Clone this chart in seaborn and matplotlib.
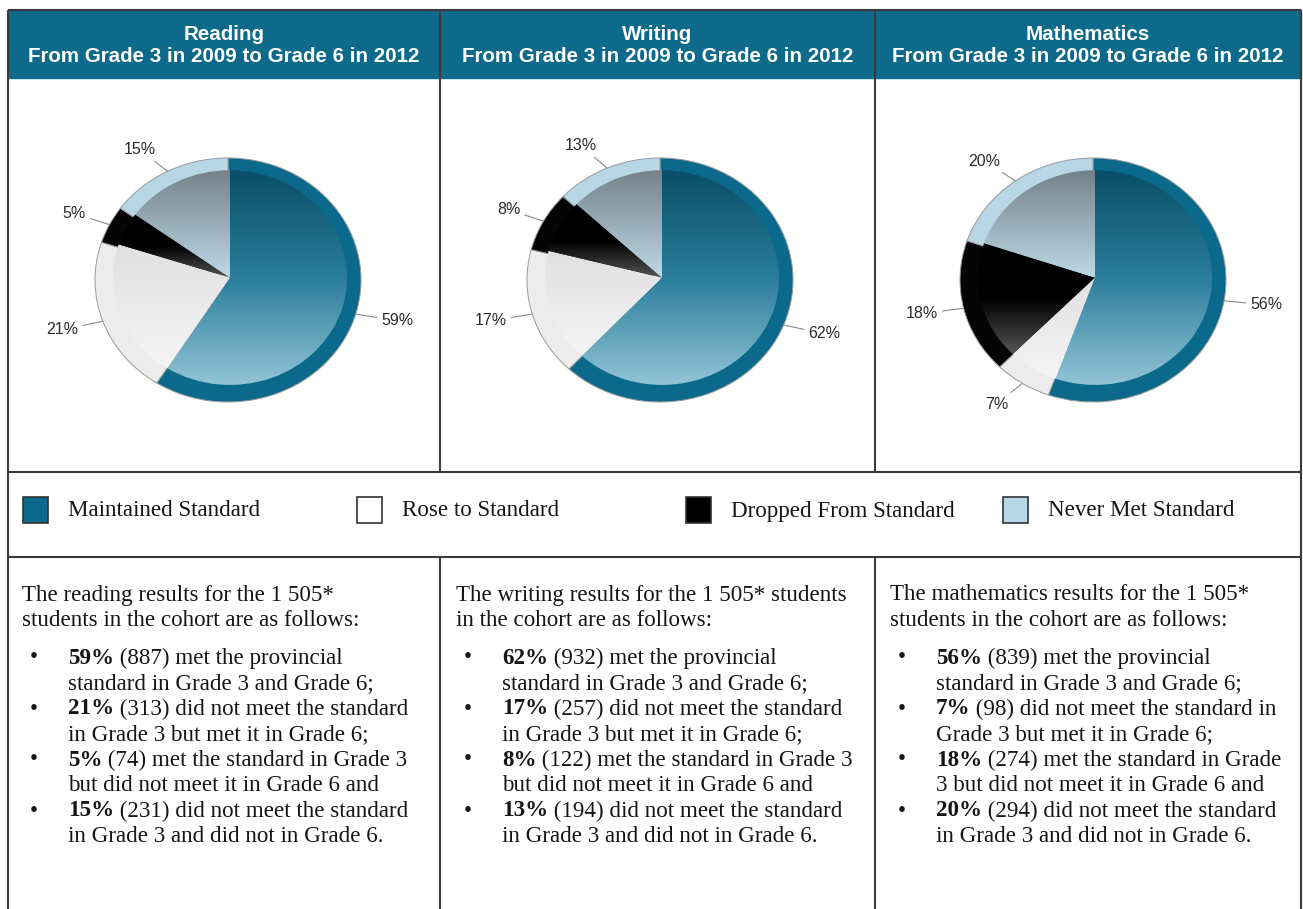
import numpy as np
import matplotlib.pyplot as plt
from matplotlib.patches import Rectangle
import seaborn as sns

sns.set_style("white")

# ---- data ----
subjects = ["Reading", "Writing", "Mathematics"]
subtitle = "From Grade 3 in 2009 to Grade 6 in 2012"
categories = ["Maintained Standard", "Rose to Standard",
              "Dropped From Standard", "Never Met Standard"]
reading_pct = [59, 21, 5, 15]
writing_pct = [62, 17, 8, 13]
math_pct = [56, 7, 18, 20]
reading_n = [887, 313, 74, 231]
writing_n = [932, 257, 122, 194]
math_n = [839, 98, 274, 294]

intro_lines = [
    ["The reading results for the 1 505*", "students in the cohort are as follows:"],
    ["The writing results for the 1 505* students", "in the cohort are as follows:"],
    ["The mathematics results for the 1 505*", "students in the cohort are as follows:"],
]
reading_lines = [
    ("met the provincial", "standard in Grade 3 and Grade 6;"),
    ("did not meet the standard", "in Grade 3 but met it in Grade 6;"),
    ("met the standard in Grade 3", "but did not meet it in Grade 6 and"),
    ("did not meet the standard", "in Grade 3 and did not in Grade 6."),
]
writing_lines = reading_lines
math_lines = [
    ("met the provincial", "standard in Grade 3 and Grade 6;"),
    ("did not meet the standard in", "Grade 3 but met it in Grade 6;"),
    ("met the standard in Grade", "3 but did not meet it in Grade 6 and"),
    ("did not meet the standard", "in Grade 3 and did not in Grade 6."),
]

pcts = [reading_pct, writing_pct, math_pct]
counts = [reading_n, writing_n, math_n]
statements = [reading_lines, writing_lines, math_lines]

# ---- styling ----
head_color = "#0d6a8b"
rim_colors = ["#0b6a8b", "#ececec", "#050505", "#b7d7e4"]
grad_colors = [["#0a4f66", "#2a7d9b", "#93c4d6"],
               ["#e0e0e0", "#f5f5f5"],
               ["#000000", "#000000", "#555555"],
               ["#75818a", "#bddae6"]]
legend_colors = ["#0b6a8b", "#ffffff", "#000000", "#b7d7e4"]
line_col = "#3a3a3a"
txt_col = "#151515"
serif = ["Liberation Serif", "DejaVu Serif"]
sans = ["Liberation Sans", "DejaVu Sans"]
body_fs = 16.6

W, H = 1303, 909
fig = plt.figure(figsize=(W / 100, H / 100), dpi=100)
bg = fig.add_axes([0, 0, 1, 1])
bg.set_xlim(0, W)
bg.set_ylim(H, 0)
bg.axis("off")

col_edges = [8, 440, 875, 1301]
top, head_bot, pie_bot, leg_bot = 10, 78, 472, 557

# header cells
for i, name in enumerate(subjects):
    x0, x1 = col_edges[i], col_edges[i + 1]
    bg.add_patch(Rectangle((x0, top), x1 - x0, head_bot - top, color=head_color, zorder=1))
    cx = (x0 + x1) / 2
    bg.text(cx, 34, name, color="white", fontsize=14.8, fontweight="bold",
            family=sans, ha="center", va="center", zorder=3)
    bg.text(cx, 57, subtitle, color="white", fontsize=14.8, fontweight="bold",
            family=sans, ha="center", va="center", zorder=3)

# grid lines
bg.hlines([top, pie_bot, leg_bot], col_edges[0], col_edges[-1], color=line_col, lw=1.5, zorder=2)
bg.vlines([col_edges[0], col_edges[-1]], top, H, color=line_col, lw=1.5, zorder=2)
bg.vlines(col_edges[1:3], top, pie_bot, color=line_col, lw=1.5, zorder=2)
bg.vlines(col_edges[1:3], leg_bot, H, color=line_col, lw=1.5, zorder=2)

# pies
pie_cx = [228, 660, 1093]
pie_cy, rx, ry = 280, 133, 122
lim = 1.3
cmaps = [sns.blend_palette(c, n_colors=256, as_cmap=True) for c in grad_colors]
grad = np.linspace(0, 1, 256).reshape(-1, 1)

for i in range(3):
    w_px, h_px = 2 * lim * rx, 2 * lim * ry
    ax = fig.add_axes([(pie_cx[i] - w_px / 2) / W, (H - pie_cy - h_px / 2) / H, w_px / W, h_px / H])
    vals = pcts[i]
    outer, _ = ax.pie(vals, colors=rim_colors, startangle=90, counterclock=False,
                      radius=1.0, wedgeprops=dict(edgecolor="#9a9a9a", linewidth=0.7))
    inner, _ = ax.pie(vals, colors=["none"] * 4, startangle=90, counterclock=False,
                      radius=0.88, center=(0.015, 0.02), wedgeprops=dict(linewidth=0))
    for k, w in enumerate(inner):
        bb = w.get_path().get_extents()
        im = ax.imshow(grad, cmap=cmaps[k], extent=(bb.x0, bb.x1, bb.y0, bb.y1),
                       aspect="auto", zorder=2, interpolation="bilinear")
        im.set_clip_path(w)
    for k, w in enumerate(outer):
        mid = np.deg2rad((w.theta1 + w.theta2) / 2)
        c, s = np.cos(mid), np.sin(mid)
        ha = "left" if c > 0.2 else ("right" if c < -0.2 else "center")
        ax.annotate(f"{vals[k]}%", xy=(c * 1.0, s * 1.0), xytext=(c * 1.2, s * 1.2),
                    ha=ha, va="center", fontsize=11.5, family=sans, color="#2a2a2a",
                    arrowprops=dict(arrowstyle="-", color="#8a8a8a", lw=0.8,
                                    shrinkA=1, shrinkB=0), zorder=4)
    ax.set_aspect("auto")
    ax.set_xlim(-lim, lim)
    ax.set_ylim(-lim, lim)
    ax.axis("off")

# legend row
legend_x = [23, 357, 686, 1003]
for k, name in enumerate(categories):
    bg.add_patch(Rectangle((legend_x[k], 497), 25, 26, facecolor=legend_colors[k],
                           edgecolor="#333333", lw=1.2, zorder=3))
    bg.text(legend_x[k] + 45, 511, name, fontsize=body_fs, family=serif, color=txt_col,
            ha="left", va="center")

# text columns
text_x = [22, 456, 890]
intro_y = [595, 620]
bullet_y = [658, 709, 760, 811]
line_gap = 25.5
for i in range(3):
    x = text_x[i]
    for j, ln in enumerate(intro_lines[i]):
        bg.text(x, intro_y[j], ln, fontsize=body_fs, family=serif, color=txt_col, va="center")
    for k in range(4):
        y = bullet_y[k]
        bg.text(x + 8, y, "\u2022", fontsize=body_fs, family=serif, color=txt_col, va="center")
        first, second = statements[i][k]
        b = bg.text(x + 46, y, f"{pcts[i][k]}%", fontsize=body_fs, family=serif,
                    fontweight="bold", color=txt_col, va="center")
        bg.annotate(f" ({counts[i][k]}) {first}", xy=(1, 0.5), xycoords=b,
                    fontsize=body_fs, family=serif, color=txt_col, va="center", ha="left")
        bg.text(x + 46, y + line_gap, second, fontsize=body_fs, family=serif,
                color=txt_col, va="center")

fig.savefig("out.png", dpi=100)
